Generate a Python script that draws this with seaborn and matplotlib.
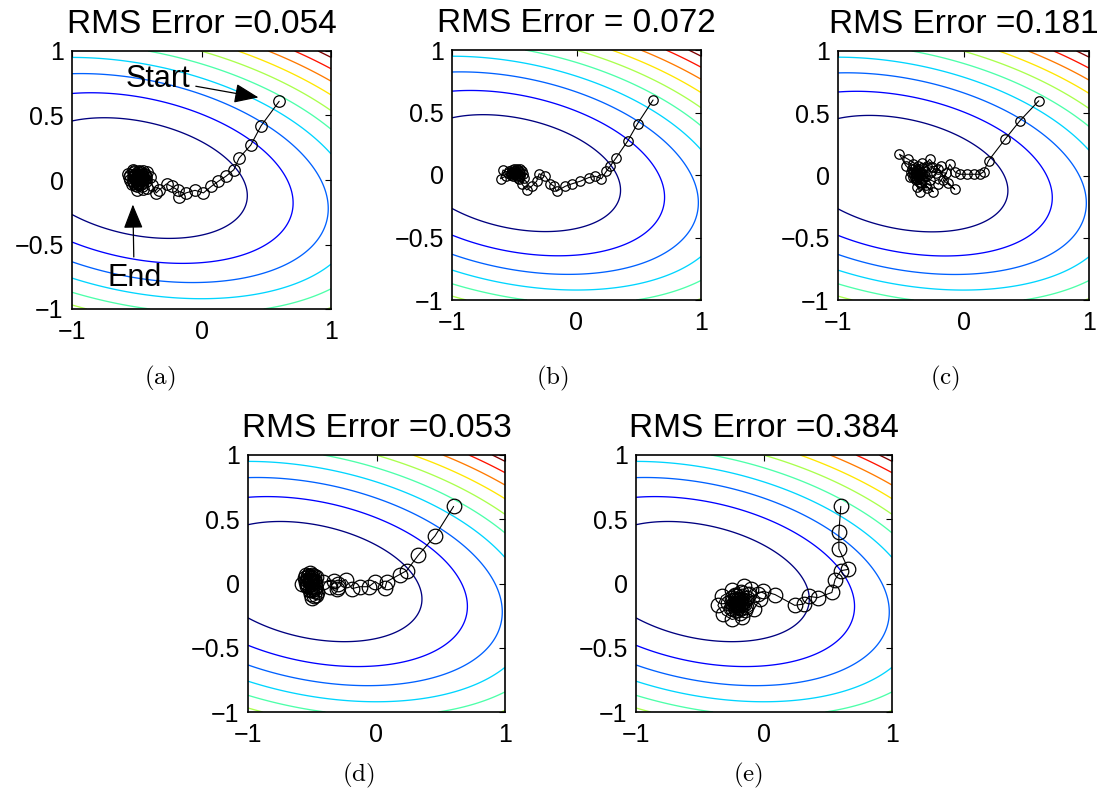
import numpy as np
import matplotlib
matplotlib.use("Agg")
import matplotlib.pyplot as plt
import seaborn as sns
import pandas as pd

sns.set_style("white")
plt.rcParams["font.family"] = ["Liberation Sans", "DejaVu Sans"]
plt.rcParams["mathtext.fontset"] = "cm"
for k in ["text.color", "axes.labelcolor", "xtick.color", "ytick.color", "axes.edgecolor"]:
    plt.rcParams[k] = "black"

# ---- objective surface (quadratic bowl) parameters ----
center = (-0.5, 0.015)
coef_xx, coef_xy, coef_yy = 0.30, 0.16, 1.0
levels = [0.2, 0.4, 0.6, 0.8, 1.0, 1.2, 1.4, 1.6, 1.8, 2.0]

# ---- panel texts ----
titles = ["RMS Error =0.054", "RMS Error = 0.072", "RMS Error =0.181",
          "RMS Error =0.053", "RMS Error =0.384"]
captions = ["a", "b", "c", "d", "e"]
xtick_vals = [-1, 0, 1]
xtick_labels = ["\u22121", "0", "1"]
ytick_vals = [-1, -0.5, 0, 0.5, 1]
ytick_labels = ["\u22121", "\u22120.5", "0", "0.5", "1"]

# ---- trajectories (x, y) ----
traj_a = [(0.60, 0.61), (0.46, 0.42), (0.38, 0.27), (0.29, 0.17), (0.25, 0.08),
          (0.19, 0.03), (0.13, -0.01), (0.075, -0.05), (0.015, -0.10), (-0.05, -0.08),
          (-0.12, -0.10), (-0.17, -0.13), (-0.18, -0.08), (-0.23, -0.05), (-0.27, -0.03),
          (-0.33, -0.08), (-0.35, -0.10), (-0.38, -0.04), (-0.40, 0.02), (-0.42, -0.06),
          (-0.44, 0.05), (-0.46, -0.02), (-0.45, 0.07), (-0.48, 0.04), (-0.50, -0.05),
          (-0.52, 0.03), (-0.55, 0.00), (-0.57, 0.05), (-0.53, 0.08), (-0.49, 0.06),
          (-0.47, -0.03), (-0.44, 0.01), (-0.42, 0.06), (-0.45, -0.07), (-0.50, -0.08),
          (-0.54, -0.03), (-0.56, 0.02), (-0.51, 0.04), (-0.48, 0.00), (-0.46, 0.03),
          (-0.43, -0.01), (-0.47, 0.06), (-0.52, 0.07), (-0.50, -0.02), (-0.48, 0.01),
          (-0.49, 0.02), (-0.51, 0.05), (-0.47, 0.04), (-0.45, 0.00), (-0.49, -0.03),
          (-0.53, -0.01), (-0.55, 0.04), (-0.52, 0.06), (-0.48, 0.07), (-0.44, 0.04),
          (-0.46, -0.05), (-0.50, 0.00), (-0.53, 0.02), (-0.47, 0.02), (-0.49, 0.05),
          (-0.51, -0.04), (-0.45, 0.03), (-0.43, 0.02), (-0.48, -0.02), (-0.50, 0.03),
          (-0.52, -0.02), (-0.46, 0.05), (-0.49, 0.00), (-0.47, -0.01)]
traj_b = [(0.615, 0.60), (0.49, 0.41), (0.41, 0.27), (0.32, 0.14), (0.27, 0.07),
          (0.24, 0.03), (0.20, -0.03), (0.15, -0.01), (0.10, -0.02), (0.03, -0.05),
          (-0.035, -0.07), (-0.09, -0.09), (-0.16, -0.13), (-0.18, -0.09), (-0.21, -0.07),
          (-0.25, -0.01), (-0.30, 0.01), (-0.32, -0.05), (-0.36, -0.09), (-0.40, -0.12),
          (-0.44, -0.07), (-0.42, -0.02), (-0.46, 0.03), (-0.49, 0.01), (-0.52, 0.04),
          (-0.55, 0.02), (-0.59, 0.04), (-0.61, -0.03), (-0.57, -0.01), (-0.53, 0.00),
          (-0.50, 0.03), (-0.47, -0.02), (-0.45, 0.02), (-0.48, 0.05), (-0.51, -0.01),
          (-0.54, 0.03), (-0.49, 0.02), (-0.46, 0.00), (-0.50, 0.01), (-0.44, 0.03),
          (-0.47, 0.04), (-0.52, 0.01), (-0.48, -0.01), (-0.45, 0.05), (-0.43, 0.01),
          (-0.50, 0.05), (-0.53, 0.02), (-0.46, -0.03), (-0.49, 0.03), (-0.51, 0.02),
          (-0.47, 0.01), (-0.45, -0.01), (-0.48, 0.02)]
traj_c = [(0.60, 0.60), (0.45, 0.44), (0.33, 0.29), (0.20, 0.12), (0.16, 0.03),
          (0.13, 0.01), (0.08, 0.01), (0.025, 0.01), (-0.03, 0.01), (-0.07, 0.03),
          (-0.11, 0.09), (-0.16, -0.04), (-0.07, -0.11), (-0.12, -0.06), (-0.20, 0.05),
          (-0.27, 0.13), (-0.33, 0.06), (-0.44, 0.13), (-0.51, 0.17), (-0.46, 0.08),
          (-0.40, 0.02), (-0.35, -0.05), (-0.24, -0.13), (-0.30, -0.08), (-0.35, -0.13),
          (-0.38, -0.04), (-0.42, 0.03), (-0.36, 0.05), (-0.31, 0.00), (-0.27, -0.04),
          (-0.22, 0.02), (-0.18, 0.08), (-0.25, 0.07), (-0.33, 0.10), (-0.39, 0.06),
          (-0.43, -0.01), (-0.37, -0.09), (-0.29, -0.10), (-0.32, -0.02), (-0.38, 0.01),
          (-0.34, 0.03), (-0.36, -0.01), (-0.40, 0.09), (-0.37, 0.04), (-0.33, -0.04),
          (-0.39, -0.02), (-0.35, 0.02), (-0.41, 0.05), (-0.36, 0.08), (-0.31, 0.04),
          (-0.34, -0.07), (-0.38, 0.03), (-0.35, 0.00), (-0.37, -0.03), (-0.33, 0.01),
          (-0.40, -0.01), (-0.36, 0.02), (-0.20, -0.07), (-0.14, 0.02), (-0.26, 0.03),
          (-0.29, 0.08), (-0.38, 0.00), (-0.35, 0.01)]
traj_d = [(0.60, 0.60), (0.455, 0.37), (0.325, 0.22), (0.235, 0.10), (0.18, 0.07),
          (0.08, 0.015), (0.066, -0.037), (-0.01, 0.015), (-0.06, -0.025), (-0.13, -0.025),
          (-0.19, -0.04), (-0.24, 0.03), (-0.30, 0.00), (-0.31, -0.045), (-0.36, -0.025),
          (-0.30, -0.03), (-0.33, 0.02), (-0.42, 0.01), (-0.47, 0.05), (-0.52, 0.08),
          (-0.56, 0.04), (-0.58, 0.00), (-0.54, -0.02), (-0.50, 0.03), (-0.53, 0.06),
          (-0.49, -0.04), (-0.47, -0.09), (-0.50, -0.11), (-0.46, -0.07), (-0.52, 0.02),
          (-0.55, 0.07), (-0.51, 0.05), (-0.48, 0.01), (-0.53, -0.01), (-0.50, 0.04),
          (-0.54, 0.03), (-0.51, 0.00), (-0.49, 0.06), (-0.52, 0.04), (-0.55, 0.01),
          (-0.50, -0.02), (-0.48, -0.06), (-0.51, -0.08), (-0.49, -0.10), (-0.52, -0.05),
          (-0.53, 0.05), (-0.50, 0.07), (-0.54, 0.00), (-0.51, 0.03), (-0.49, 0.02),
          (-0.52, 0.01), (-0.50, -0.05), (-0.48, -0.03), (-0.51, 0.02)]
traj_e = [(0.60, 0.60), (0.585, 0.40), (0.585, 0.27), (0.66, 0.11), (0.60, 0.10),
          (0.555, 0.03), (0.53, -0.07), (0.42, -0.11), (0.35, -0.10), (0.31, -0.16),
          (0.24, -0.17), (0.086, -0.086), (-0.005, -0.06), (-0.05, -0.08), (-0.10, -0.04),
          (-0.16, -0.02), (-0.25, -0.05), (-0.33, -0.10), (-0.36, -0.17), (-0.32, -0.24),
          (-0.25, -0.28), (-0.17, -0.26), (-0.08, -0.20), (-0.03, -0.12), (-0.12, -0.08),
          (-0.21, -0.10), (-0.28, -0.15), (-0.22, -0.21), (-0.14, -0.18), (-0.18, -0.12),
          (-0.24, -0.13), (-0.20, -0.16), (-0.16, -0.14), (-0.22, -0.15), (-0.19, -0.13),
          (-0.21, -0.17), (-0.20, -0.14), (-0.23, -0.09), (-0.18, -0.07), (-0.13, -0.11),
          (-0.26, -0.19), (-0.19, -0.23), (-0.15, -0.21), (-0.24, -0.16), (-0.17, -0.17),
          (-0.22, -0.12), (-0.25, -0.11), (-0.19, -0.19), (-0.23, -0.18), (-0.17, -0.10),
          (-0.21, -0.13), (-0.18, -0.15), (-0.24, -0.20), (-0.20, -0.18), (-0.16, -0.16),
          (-0.22, -0.17), (-0.20, -0.12), (-0.19, -0.16), (-0.21, -0.15)]
trajs = [traj_a, traj_b, traj_c, traj_d, traj_e]

# ---- layout (pixels: left, top, width, height) ----
W, H = 1104, 801
boxes = [(72, 51, 259, 258), (452, 50, 249, 250), (838, 51, 251, 249),
         (248, 455, 257, 257), (636, 455, 256, 257)]
caption_pos = [(160, 378), (552, 378), (945, 378), (358, 775), (748, 775)]
marker_sizes = [8.3, 6.8, 6.8, 10.5, 10.5]

fig = plt.figure(figsize=(W / 100, H / 100), dpi=100)

gx = np.linspace(-1, 1, 301)
GX, GY = np.meshgrid(gx, gx)
dx, dy = GX - center[0], GY - center[1]
Z = coef_xx * dx ** 2 + 2 * coef_xy * dx * dy + coef_yy * dy ** 2

axes = []
for i, (l, t, w, h) in enumerate(boxes):
    ax = fig.add_axes([l / W, 1 - (t + h) / H, w / W, h / H])
    axes.append(ax)
    ax.contour(GX, GY, Z, levels=levels, cmap="jet", linewidths=0.95)
    df = pd.DataFrame(trajs[i], columns=["x", "y"])
    sns.lineplot(data=df, x="x", y="y", sort=False, estimator=None, ax=ax,
                 color="k", lw=0.8, marker="o", markersize=marker_sizes[i],
                 markerfacecolor="none", markeredgecolor="k", markeredgewidth=0.9)
    ax.set_xlim(-1, 1)
    ax.set_ylim(-1, 1)
    ax.set_xticks(xtick_vals)
    ax.set_xticklabels(xtick_labels)
    ax.set_yticks(ytick_vals)
    ax.set_yticklabels(ytick_labels)
    ax.set_xlabel("")
    ax.set_ylabel("")
    ax.tick_params(direction="in", top=True, right=True, length=4, width=0.8,
                   labelsize=18)
    ax.tick_params(axis="x", pad=8)
    ax.tick_params(axis="y", pad=6)
    for s in ax.spines.values():
        s.set_visible(True)
        s.set_color("k")
        s.set_linewidth(1.2)
    ax.set_title(titles[i], fontsize=24, pad=13)
    cx, cy = caption_pos[i]
    fig.text(cx / W, 1 - cy / H, r"$(\mathrm{" + captions[i] + r"})$",
             ha="center", va="center", fontsize=18)

# annotations in panel (a)
arrow = dict(arrowstyle="-|>,head_length=0.75,head_width=0.3", color="k", lw=0.9,
             mutation_scale=20, shrinkA=2, shrinkB=0)
axes[0].annotate("Start", xy=(0.44, 0.64), xytext=(-0.34, 0.78), ha="center",
                 va="center", fontsize=22, arrowprops=arrow)
axes[0].annotate("End", xy=(-0.53, -0.19), xytext=(-0.52, -0.76), ha="center",
                 va="center", fontsize=22, arrowprops=arrow)

fig.savefig("out.png", dpi=100)
